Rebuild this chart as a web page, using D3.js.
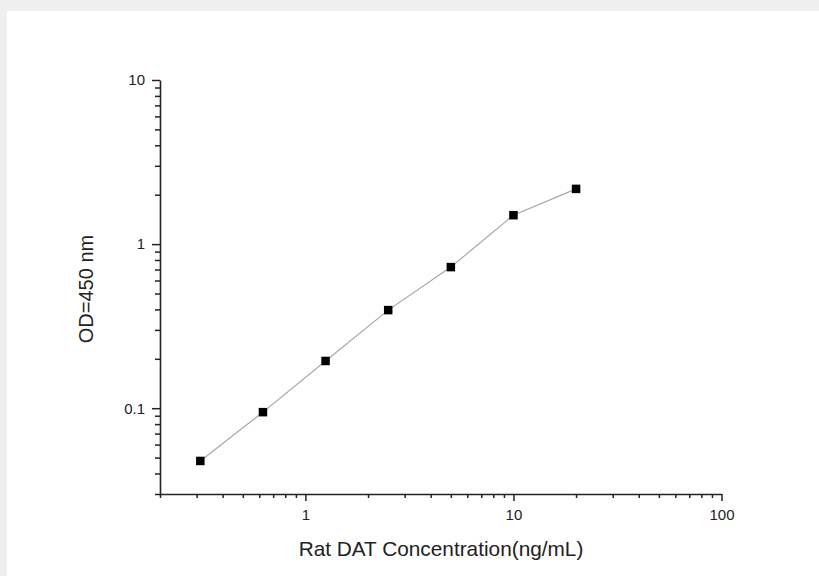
<!DOCTYPE html>
<html><head><meta charset="utf-8">
<script src="https://cdn.jsdelivr.net/npm/d3@7"></script>
<style>body{margin:0;background:#efefef;}svg{display:block;font-family:"Liberation Sans",Arial,sans-serif;}</style>
</head><body>
<svg id="c" width="819" height="576"></svg>
<script>
const concentrations = [0.3125, 0.625, 1.25, 2.5, 5, 10, 20];
const odValues = [0.0477, 0.0946, 0.194, 0.396, 0.724, 1.50, 2.17];
const xMajorTicks = [1, 10, 100];
const yMajorTicks = [0.1, 1, 10];
const xLabel = "Rat DAT Concentration(ng/mL)";
const yLabel = "OD=450 nm";

const svg = d3.select("#c");
svg.append("rect").attr("x",0).attr("y",0).attr("width",819).attr("height",576).attr("fill","#efefef");
svg.append("rect").attr("x",7).attr("y",11).attr("width",812).attr("height",565).attr("fill","#ffffff");

const x = d3.scaleLog().domain([0.2, 100]).range([160, 721.5]);
const y = d3.scaleLog().domain([0.03, 10]).range([494, 80]);

const xMinor = [];
[0.1,1,10].forEach(d=>{for(let k=2;k<=9;k++){const v=+(d*k).toFixed(4); if(v>=0.2&&v<=100&&!xMajorTicks.includes(v)) xMinor.push(v);}});
const yMinor = [];
[0.01,0.1,1].forEach(d=>{for(let k=2;k<=9;k++){const v=+(d*k).toFixed(4); if(v>=0.03&&v<=10&&!yMajorTicks.includes(v)) yMinor.push(v);}});

const axisColor = "#222";
svg.append("g").attr("transform","translate(0,494)")
  .call(d3.axisBottom(x).tickValues(xMinor).tickSize(4).tickFormat(""))
  .call(g=>{g.select(".domain").remove(); g.selectAll("line").attr("stroke",axisColor).attr("stroke-width",1.5);});
svg.append("g").attr("transform","translate(0,494)")
  .call(d3.axisBottom(x).tickValues(xMajorTicks).tickSize(7).tickSizeOuter(0).tickPadding(8).tickFormat(d3.format("~g")))
  .call(g=>{g.select(".domain").attr("stroke",axisColor).attr("stroke-width",1.6);
    g.selectAll("line").attr("stroke",axisColor).attr("stroke-width",1.5);
    g.selectAll("text").attr("font-size",15).attr("fill","#222").attr("font-family","Liberation Sans, Arial, sans-serif");});
svg.append("g").attr("transform","translate(160,0)")
  .call(d3.axisLeft(y).tickValues(yMinor).tickSize(5).tickFormat(""))
  .call(g=>{g.select(".domain").remove(); g.selectAll("line").attr("stroke",axisColor).attr("stroke-width",1.5);});
svg.append("g").attr("transform","translate(160,0)")
  .call(d3.axisLeft(y).tickValues(yMajorTicks).tickSize(8).tickSizeOuter(0).tickPadding(7).tickFormat(d3.format("~g")))
  .call(g=>{g.select(".domain").attr("stroke",axisColor).attr("stroke-width",1.6);
    g.selectAll("line").attr("stroke",axisColor).attr("stroke-width",1.5);
    g.selectAll("text").attr("font-size",15).attr("fill","#222").attr("font-family","Liberation Sans, Arial, sans-serif");});

const pts = concentrations.map((c,i)=>({c, v: odValues[i]}));
svg.append("path").datum(pts)
  .attr("d", d3.line().x(d=>x(d.c)).y(d=>y(d.v)))
  .attr("fill","none").attr("stroke","#a6a6a6").attr("stroke-width",1.2);
svg.append("g").selectAll("rect").data(pts).join("rect")
  .attr("x", d=>x(d.c)-4.25).attr("y", d=>y(d.v)-4.25)
  .attr("width",8.5).attr("height",8.5).attr("fill","#000");

svg.append("text").attr("x",441).attr("y",556).attr("text-anchor","middle")
  .attr("font-size",20.8).attr("fill","#222").text(xLabel);
svg.append("text").attr("transform","translate(93,289) rotate(-90)").attr("text-anchor","middle")
  .attr("font-size",20).attr("fill","#222").text(yLabel);
</script>
</body></html>
